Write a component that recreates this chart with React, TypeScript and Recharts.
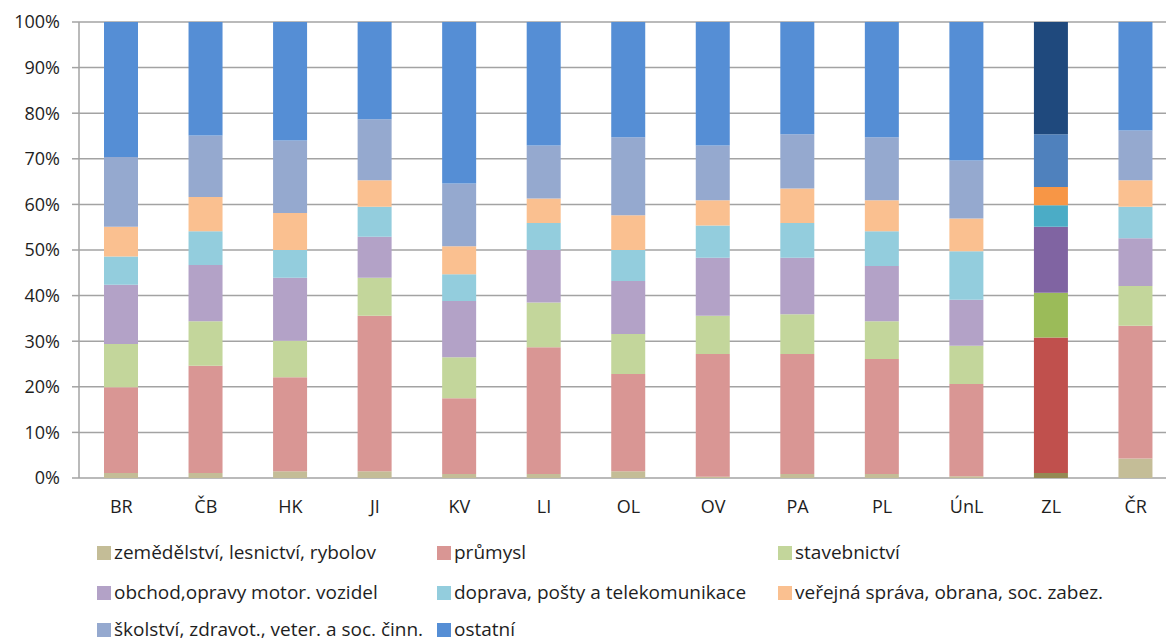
import React from 'react';
import { BarChart, Bar, XAxis, YAxis, CartesianGrid, Legend, Cell } from 'recharts';

// regions (kraje) + Czech Republic total
const categories = ['BR', 'ČB', 'HK', 'JI', 'KV', 'LI', 'OL', 'OV', 'PA', 'PL', 'ÚnL', 'ZL', 'ČR'];

// share of employment by sector, in %
const zemedelstvi = [1.1, 1.1, 1.5, 1.5, 0.9, 0.9, 1.5, 0.3, 0.9, 0.9, 0.4, 1.1, 4.3];
const prumysl = [18.8, 23.5, 20.6, 34.1, 16.6, 27.8, 21.3, 26.9, 26.3, 25.2, 20.2, 29.7, 29.1];
const stavebnictvi = [9.5, 9.8, 8.0, 8.3, 9.0, 9.8, 8.8, 8.4, 8.7, 8.3, 8.4, 9.8, 8.7];
const obchod = [13.0, 12.3, 13.8, 9.0, 12.3, 11.5, 11.6, 12.7, 12.4, 12.1, 10.1, 14.5, 10.5];
const doprava = [6.2, 7.4, 6.1, 6.6, 5.9, 5.9, 6.8, 7.1, 7.6, 7.6, 10.6, 4.7, 6.9];
const verejna = [6.5, 7.5, 8.1, 5.8, 6.1, 5.4, 7.6, 5.5, 7.6, 6.8, 7.2, 4.0, 5.8];
const skolstvi = [15.3, 13.5, 15.9, 13.4, 13.8, 11.6, 17.1, 12.0, 11.9, 13.8, 12.7, 11.6, 10.9];
const ostatni = [29.6, 24.9, 26.0, 21.3, 35.4, 27.1, 25.3, 27.1, 24.6, 25.3, 30.4, 24.6, 23.8];

const yTicks = [0, 0.1, 0.2, 0.3, 0.4, 0.5, 0.6, 0.7, 0.8, 0.9, 1];
const highlighted = 'ZL';

const series = [
    { key: 'zem', name: 'zemědělství, lesnictví, rybolov', values: zemedelstvi, color: '#C4BD97', dark: '#948A54' },
    { key: 'pru', name: 'průmysl', values: prumysl, color: '#D99694', dark: '#C0504D' },
    { key: 'sta', name: 'stavebnictví', values: stavebnictvi, color: '#C3D69B', dark: '#9BBB59' },
    { key: 'obc', name: 'obchod,opravy motor. vozidel', values: obchod, color: '#B3A2C7', dark: '#8064A2' },
    { key: 'dop', name: 'doprava, pošty a telekomunikace', values: doprava, color: '#93CDDD', dark: '#4BACC6' },
    { key: 'ver', name: 'veřejná správa, obrana, soc. zabez.', values: verejna, color: '#FAC090', dark: '#F79646' },
    { key: 'sko', name: 'školství, zdravot., veter. a soc. činn.', values: skolstvi, color: '#95A9CF', dark: '#4F81BD' },
    { key: 'ost', name: 'ostatní', values: ostatni, color: '#558ED5', dark: '#1F497D' },
];

const data = categories.map((name, i) => {
    const row: { [key: string]: string | number } = { name };
    series.forEach(s => { row[s.key] = s.values[i]; });
    return row;
});

const font = '"Open Sans", "Noto Sans", sans-serif';
const textColor = '#1e1e1e';
const gridColor = '#A3A3A3';
const legendCols = [97, 437, 778];
const legendRows = [35, 75, 112];

const LegendBox = () => (
    <div style={{ position: 'relative', height: 133, width: 1166, fontFamily: font, fontSize: 19, lineHeight: '19px', color: textColor }}>
        {series.map((s, i) => (
            <div key={s.key} style={{ position: 'absolute', left: legendCols[i % 3], top: legendRows[Math.floor(i / 3)], display: 'flex', alignItems: 'center', whiteSpace: 'nowrap', height: 19 }}>
                <span style={{ display: 'inline-block', width: 14, height: 14, background: s.color, marginRight: 3 }} />
                <span>{s.name}</span>
            </div>
        ))}
    </div>
);

export default function App() {
    return (
        <div style={{ position: 'absolute', left: 0, top: 0, width: 1166, height: 641, overflow: 'hidden', background: '#fff' }}>
            <BarChart width={1180} height={641} data={data} stackOffset="expand" barSize={34}
                margin={{ top: 22, right: 2, bottom: 0, left: 0 }}>
                <CartesianGrid vertical={false} stroke={gridColor} strokeWidth={1.5} />
                <XAxis xAxisId="ticks" type="number" domain={[0, categories.length]} ticks={categories.map((_, i) => i).concat(categories.length)}
                    height={0} tick={() => <g />} tickSize={6} tickLine={{ stroke: gridColor, strokeWidth: 1.5 }} axisLine={{ stroke: gridColor, strokeWidth: 1.5 }} allowDataOverflow />
                <XAxis dataKey="name" height={30} tickLine={false} axisLine={false} tickSize={6} tickMargin={16}
                    tick={{ fill: textColor, fontSize: 18, fontFamily: font }} interval={0} />
                <YAxis width={79} domain={[0, 1]} ticks={yTicks} tickFormatter={v => `${Math.round(v * 100)}%`}
                    tickSize={7} tickMargin={12} tickLine={{ stroke: gridColor, strokeWidth: 1.5 }} axisLine={{ stroke: gridColor, strokeWidth: 1.5 }}
                    tick={{ fill: textColor, fontSize: 18, fontFamily: font }} />
                <Legend verticalAlign="bottom" content={() => <LegendBox />} wrapperStyle={{ left: 0, bottom: 0, width: 1166, height: 133 }} />
                {series.map(s => (
                    <Bar key={s.key} dataKey={s.key} name={s.name} stackId="a" fill={s.color} isAnimationActive={false}>
                        {categories.map(c => <Cell key={c} fill={c === highlighted ? s.dark : s.color} />)}
                    </Bar>
                ))}
            </BarChart>
        </div>
    );
}
